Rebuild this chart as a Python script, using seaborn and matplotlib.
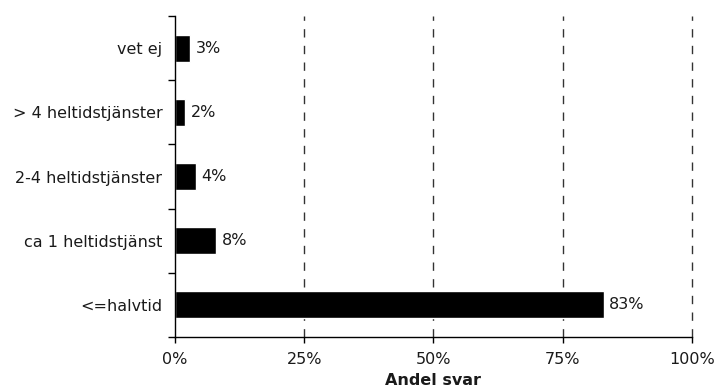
import matplotlib
matplotlib.use("Agg")
import matplotlib.pyplot as plt
import numpy as np
import pandas as pd
import seaborn as sns

categories = ["vet ej", "> 4 heltidstjänster", "2-4 heltidstjänster",
              "ca 1 heltidstjänst", "<=halvtid"]
shares = [3, 2, 4, 8, 83]
x_ticks = [0, 25, 50, 75, 100]
x_tick_labels = ["0%", "25%", "50%", "75%", "100%"]

df = pd.DataFrame({"kategori": categories, "andel": shares})

sns.set_theme(style="white")
plt.rcParams["font.family"] = ["DejaVu Sans"]

FS = 11.5
TXT = "#1a1a1a"

fig = plt.figure(figsize=(7.17, 3.91), dpi=100)
ax = fig.add_axes([0.244, 0.138, 0.721, 0.821])

sns.barplot(data=df, x="andel", y="kategori", order=categories,
            color="black", saturation=1, width=0.42, orient="h", ax=ax)

ax.set_xlim(0, 100)
ax.set_ylim(len(categories) - 0.5, -0.5)

# dashed reference lines at each major x tick
for xv in x_ticks[1:]:
    ax.axvline(xv, color="#333333", linestyle=(0, (6, 6)), linewidth=1,
               zorder=0, clip_on=False)

for i, v in enumerate(shares):
    ax.text(v + 1.0, i, f"{v}%", va="center", ha="left", fontsize=FS, color=TXT)

# category labels at bar centres, tick marks at band boundaries
ax.set_yticks(np.arange(-0.5, len(categories), 1.0))
ax.set_yticklabels([])
ax.set_yticks(np.arange(len(categories)), minor=True)
ax.set_yticklabels(categories, minor=True, fontsize=FS, color=TXT)
ax.tick_params(axis="y", which="major", direction="out", length=5, width=1,
               color="black", left=True)
ax.tick_params(axis="y", which="minor", length=0, pad=9)

ax.set_xticks(x_ticks)
ax.set_xticklabels(x_tick_labels, fontsize=FS, color=TXT)
ax.tick_params(axis="x", direction="out", length=4, width=1, color="black",
               bottom=True, pad=7)

ax.set_xlabel("Andel svar", fontsize=FS, fontweight="bold", labelpad=4, color=TXT)
ax.set_ylabel("")

for side in ["top", "right"]:
    ax.spines[side].set_visible(False)
for side in ["left", "bottom"]:
    ax.spines[side].set_color("black")
    ax.spines[side].set_linewidth(1)

fig.savefig("out.png", dpi=100)
